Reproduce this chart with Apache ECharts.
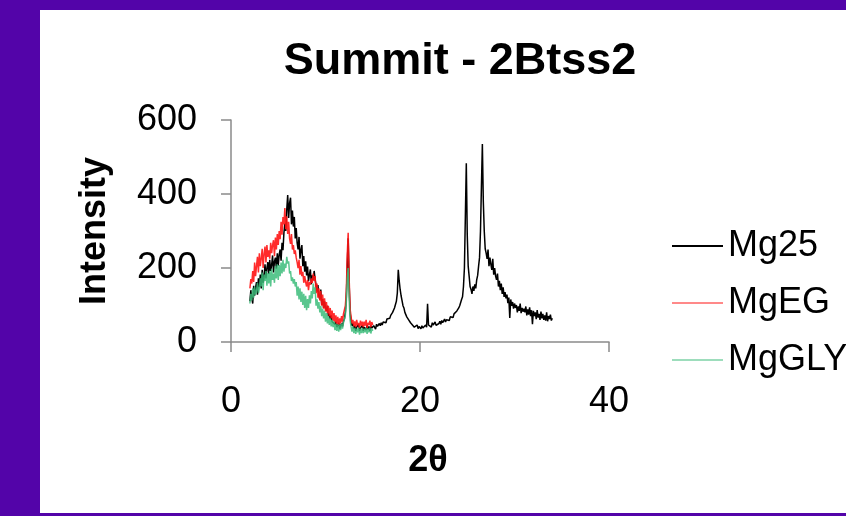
<!DOCTYPE html>
<html>
<head>
<meta charset="utf-8">
<script src="https://cdn.jsdelivr.net/npm/echarts@6/dist/echarts.min.js"></script>
<style>
html,body{margin:0;padding:0;background:#5304a9;}
#chart{width:846px;height:516px;}
</style>
</head>
<body>
<div id="chart"></div>
<script>
// 2θ sampling: start angle and step of the measured scans
const angleStart = 2.0;
const angleStep = 0.1;

const seriesNames = ['Mg25', 'MgEG', 'MgGLY'];
const xTicks = [0, 20, 40];
const yTicks = [0, 200, 400, 600];

// Mg25 intensities, 2.0 .. 34.0
const mg25 = [
110,140,118,104,152,125,146,162,128,172,
148,182,145,195,160,176,210,172,200,216,
184,222,192,208,234,188,218,228,198,240,
206,236,250,220,268,248,295,320,300,358,
397,335,375,390,318,355,312,338,280,308,
268,250,284,225,248,262,205,232,190,218,
180,204,164,182,196,156,180,168,192,170,
165,136,154,124,115,142,100,116,92,110,
92,84,98,70,76,62,72,55,60,52,
48,55,40,46,52,36,44,50,42,56,
62,80,118,205,280,160,80,58,44,50,
36,44,30,40,35,48,30,38,33,45,
30,40,36,32,46,34,42,30,44,38,
36,44,40,35,48,42,38,50,44,52,
46,54,50,58,52,62,58,66,64,72,
70,80,78,92,95,110,132,195,165,142,
125,112,98,92,80,76,68,64,60,55,
52,48,46,50,40,44,38,46,36,42,
40,36,44,38,42,35,46,40,103,46,
44,50,40,52,46,42,54,45,50,48,
50,56,48,58,52,55,62,54,60,58,
62,58,68,64,70,66,76,72,80,84,
86,92,98,102,115,122,150,200,340,483,
290,205,178,150,142,130,150,138,156,145,
168,180,205,228,300,420,535,380,300,252,
240,225,250,205,228,210,195,225,182,200,
178,168,185,150,165,140,158,130,148,122,
135,118,128,105,120,65,115,98,108,90,
104,92,100,80,96,84,104,78,92,82,
90,80,96,72,88,74,94,70,86,48,
84,70,80,62,86,66,76,60,82,64,
76,60,72,58,80,56,70,62,74,58,
64
];

// MgEG intensities, 2.0 .. 15.0
const mgEG = [
145,170,158,192,162,215,178,205,230,188,
240,205,225,252,200,238,258,215,262,230,
248,225,268,240,262,275,232,282,250,292,
262,300,278,325,290,338,318,362,305,340,
292,325,280,265,292,250,262,238,248,228,
215,200,222,182,205,178,190,160,178,162,
150,168,140,162,155,172,160,185,165,178,
132,158,120,145,112,138,98,128,90,118,
82,108,78,98,70,92,64,85,56,78,
52,72,48,68,46,64,50,70,55,76,
80,98,135,235,295,175,90,70,50,60,
42,56,40,60,45,52,38,58,44,55,
40,55,44,60,38,52,46,58,40,54,
46
];

// MgGLY intensities, 2.0 .. 15.0
const mgGLY = [
104,130,112,145,120,150,128,138,160,132,
145,172,150,188,140,182,165,192,152,186,
158,192,150,198,168,185,160,205,172,210,
168,208,178,215,185,222,190,212,200,230,
212,218,185,192,165,175,158,170,150,162,
125,150,115,145,108,136,100,130,92,125,
86,116,92,126,104,138,118,158,130,148,
98,115,90,108,80,98,70,90,64,84,
55,78,50,70,46,64,42,60,40,56,
32,50,30,48,28,46,32,50,36,52,
55,72,105,170,200,118,60,42,28,42,
24,38,22,36,26,39,20,36,24,38,
24,36,26,38,22,37,26,39,23,36,
30
];

function toPairs(values) {
  return values.map((v, i) => [Math.round((angleStart + i * angleStep) * 10) / 10, v]);
}

const FONT = '"Liberation Sans", Arial, sans-serif';
const AXIS_GRAY = '#8a8a8a';
const COLORS = ['#000000', '#ff1414', '#3cbc7a'];

const chart = echarts.init(document.getElementById('chart'), null, {renderer: 'canvas'});
chart.setOption({
  backgroundColor: '#5304a9',
  animation: false,
  graphic: [{
    type: 'rect', z: -10, silent: true,
    shape: {x: 40, y: 10, width: 806, height: 503},
    style: {fill: '#ffffff'}
  }],
  title: {
    text: 'Summit - 2Btss2',
    left: 455, top: 34, textAlign: 'center',
    textStyle: {fontFamily: FONT, fontSize: 45, fontWeight: 'bold', color: '#000'}
  },
  legend: {
    orient: 'vertical',
    left: 667, top: 223,
    icon: 'rect',
    itemWidth: 51, itemHeight: 2, itemGap: 21,
    data: [
      {name: seriesNames[0], itemStyle: {opacity: 1}},
      {name: seriesNames[1], itemStyle: {opacity: 0.5}},
      {name: seriesNames[2], itemStyle: {opacity: 0.5}}
    ],
    textStyle: {fontFamily: FONT, fontSize: 36, color: '#000'}
  },
  grid: {left: 231, right: 237, top: 120, bottom: 174, containLabel: false},
  xAxis: {
    type: 'value', min: xTicks[0], max: xTicks[xTicks.length - 1], interval: 20,
    name: '2θ', nameLocation: 'middle', nameGap: 101,
    nameTextStyle: {fontFamily: FONT, fontSize: 36, fontWeight: 'bold', color: '#000', padding: [0, 0, 0, 16]},
    axisLine: {lineStyle: {color: AXIS_GRAY, width: 1.5}},
    axisTick: {length: 10, lineStyle: {color: AXIS_GRAY, width: 1.5}},
    axisLabel: {fontFamily: FONT, fontSize: 36, color: '#000', margin: 42},
    splitLine: {show: false}
  },
  yAxis: {
    type: 'value', min: yTicks[0], max: yTicks[yTicks.length - 1], interval: 200,
    name: 'Intensity', nameLocation: 'middle', nameGap: 118, nameRotate: 90,
    nameTextStyle: {fontFamily: FONT, fontSize: 36, fontWeight: 'bold', color: '#000'},
    axisLine: {show: true, lineStyle: {color: AXIS_GRAY, width: 1.5}},
    axisTick: {show: true, length: 10, lineStyle: {color: AXIS_GRAY, width: 1.5}},
    axisLabel: {fontFamily: FONT, fontSize: 36, color: '#000', margin: 34},
    splitLine: {show: false}
  },
  series: [
    {name: seriesNames[0], type: 'line', data: toPairs(mg25), symbol: 'none',
     lineStyle: {color: COLORS[0], width: 1.5}, itemStyle: {color: COLORS[0]}},
    {name: seriesNames[1], type: 'line', data: toPairs(mgEG), symbol: 'none',
     lineStyle: {color: COLORS[1], width: 1.5, opacity: 0.9}, itemStyle: {color: COLORS[1]}},
    {name: seriesNames[2], type: 'line', data: toPairs(mgGLY), symbol: 'none',
     lineStyle: {color: COLORS[2], width: 1.5, opacity: 0.85}, itemStyle: {color: COLORS[2]}}
  ]
});
</script>
</body>
</html>
